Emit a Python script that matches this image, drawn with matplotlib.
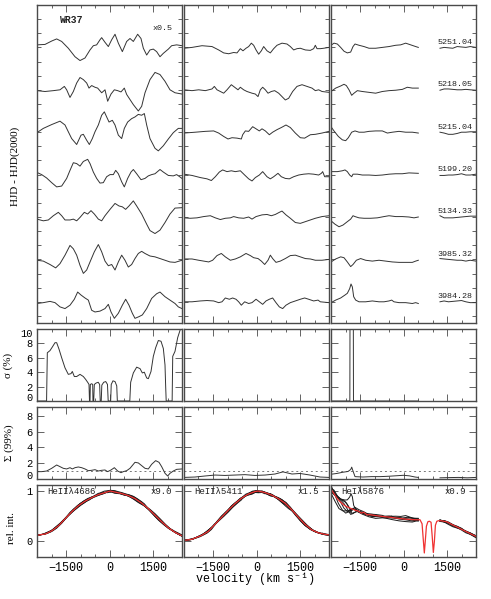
import numpy as np
import matplotlib
matplotlib.use("Agg")
import matplotlib.pyplot as plt
from matplotlib.ticker import MultipleLocator, NullLocator

plt.rcParams["font.family"] = ["Liberation Mono", "DejaVu Sans Mono"]
plt.rcParams["axes.unicode_minus"] = True

# observation labels, top trace first
dates = ["5251.04", "5218.05", "5215.04", "5199.20", "5134.33", "3985.32", "3984.28"]

# residual spectra, He II 4686 (top to bottom)
res1_v = [
    [-2500, -2224, -1994, -1822, -1649, -1420, -1190, -1017, -845, -672, -557, -443, -328, -270, -155, -40, 75, 190,
     305, 443, 592, 707, 822, 971, 1086, 1167, 1282, 1396, 1511, 1626, 1741, 1856, 2029, 2143, 2316, 2500],
    [-2500, -2224, -1937, -1707, -1557, -1477, -1362, -1247, -1132, -1017, -902, -787, -707, -615, -500, -408, -270,
     -155, -63, 52, 167, 282, 397, 511, 592, 707, 822, 994, 1109, 1224, 1396, 1569, 1741, 1914, 2086, 2259, 2500],
    [-2500, -2282, -1994, -1707, -1534, -1420, -1305, -1132, -983, -902, -787, -695, -592, -500, -385, -270, -178,
     -98, -16, 98, 190, 305, 420, 511, 626, 764, 879, 994, 1109, 1201, 1282, 1396, 1569, 1684, 1856, 2029, 2201,
     2373, 2500],
    [-2500, -2339, -2167, -1994, -1822, -1649, -1477, -1362, -1247, -1132, -1017, -902, -753, -672, -557, -443, -328,
     -213, -98, 18, 132, 213, 305, 420, 511, 626, 741, 822, 937, 1086, 1224, 1339, 1454, 1569, 1741, 1856, 2029,
     2201, 2316, 2500],
    [-2500, -2282, -2109, -1937, -1764, -1649, -1534, -1362, -1247, -1132, -1017, -868, -753, -638, -523, -385, -270,
     -155, 18, 190, 328, 443, 557, 672, 822, 937, 1109, 1282, 1396, 1569, 1741, 1914, 2086, 2259, 2500],
    [-2500, -2282, -2052, -1856, -1707, -1534, -1362, -1247, -1132, -1017, -902, -787, -672, -523, -385, -270, -155,
     -40, 75, 190, 305, 420, 534, 649, 764, 879, 994, 1109, 1224, 1396, 1569, 1741, 1914, 2086, 2259, 2500],
    [-2500, -2282, -2052, -1879, -1707, -1534, -1362, -1213, -1098, -983, -845, -730, -615, -500, -328, -155, -40,
     52, 167, 305, 443, 557, 672, 787, 879, 1017, 1132, 1282, 1454, 1626, 1741, 1914, 2086, 2259, 2373, 2500],
]
res1_y = [
    [0.01, 0.02, 0.10, 0.15, 0.09, -0.07, -0.27, -0.36, -0.30, -0.11, -0.01, 0.01, 0.13, 0.18, 0.07, -0.03, 0.13,
     0.26, 0.05, -0.15, 0.09, 0.16, 0.09, 0.26, 0.16, -0.07, -0.23, -0.11, -0.09, -0.15, -0.27, -0.19, -0.09,
     -0.01, 0.01, -0.01],
    [0, -0.02, 0, 0.02, 0.10, 0.02, -0.16, -0.02, 0.18, 0.31, 0.26, 0.18, 0.06, 0.12, 0.08, 0.06, -0.05, 0.02,
     -0.25, -0.08, 0.02, 0, -0.03, 0.06, -0.09, -0.21, -0.33, -0.48, -0.37, -0.05, 0.26, 0.43, 0.38, 0.22, 0.02,
     -0.05, -0.08],
    [-0.02, 0.08, 0.17, 0.25, 0.16, 0, -0.16, -0.30, -0.08, -0.06, -0.20, -0.30, -0.16, 0, 0.16, 0.39, 0.47, 0.35,
     0.23, 0.27, 0.16, -0.08, -0.16, 0.08, 0.23, 0.31, 0.35, 0.41, 0.39, 0.43, 0.16, -0.16, -0.39, -0.45, -0.33,
     -0.17, -0.02, 0.08, 0.08],
    [0.05, 0, -0.08, -0.19, -0.29, -0.27, -0.09, 0.10, 0.28, 0.26, 0.20, 0.31, 0.36, 0.26, 0.06, -0.09, -0.20,
     -0.19, -0.05, 0, 0, 0.10, 0.02, -0.17, -0.29, -0.09, 0.06, 0.12, 0.02, -0.12, -0.09, -0.03, 0, 0.02, 0.12,
     0.06, -0.02, -0.03, 0, -0.09],
    [0, -0.04, -0.02, 0.08, 0.16, 0.08, -0.02, -0.02, 0, -0.04, 0.04, 0.16, 0.12, 0.20, 0.12, 0, -0.04, 0.08, 0.23,
     0.37, 0.31, 0.29, 0.23, 0.31, 0.43, 0.31, 0.12, -0.12, -0.27, -0.34, -0.26, -0.08, 0.12, 0.26, 0.27],
    [0, -0.02, -0.10, -0.18, -0.08, 0.12, 0.35, 0.27, 0.12, -0.12, -0.31, -0.23, -0.04, 0.20, 0.37, 0.20, -0.02,
     -0.13, -0.10, -0.23, -0.04, 0.12, 0, -0.16, -0.10, 0.04, 0.16, 0.21, 0.16, 0.10, 0.08, 0.04, 0, -0.04, -0.05,
     0],
    [0, 0.02, 0.05, 0.02, -0.08, -0.12, -0.04, 0.10, 0.27, 0.20, 0.13, 0.08, -0.16, -0.20, -0.18, -0.12, -0.02,
     -0.20, -0.35, -0.23, -0.04, 0.10, -0.04, -0.23, -0.35, -0.31, -0.27, -0.12, 0.12, 0.23, 0.27, 0.16, 0.08, 0,
     -0.08, -0.12],
]
res1_zero = [0.05, -0.02, 0.01, 0.0, -0.05, -0.02, -0.04]

# residual spectra, He II 5411
res2_v = [
    [-2500, -2224, -1879, -1534, -1305, -1132, -960, -787, -672, -557, -466, -362, -270, -178, -98, -16, 75, 167,
     247, 362, 477, 592, 707, 879, 1052, 1167, 1282, 1396, 1511, 1684, 1856, 1971, 2029, 2086, 2201, 2316, 2500],
    [-2500, -2224, -1994, -1764, -1534, -1454, -1362, -1247, -1132, -1017, -868, -753, -638, -557, -443, -328, -155,
     -40, 52, 132, 213, 305, 397, 511, 626, 764, 879, 994, 1109, 1247, 1396, 1569, 1741, 1914, 2029, 2143, 2259,
     2500],
    [-2500, -2109, -1764, -1477, -1305, -1132, -983, -845, -672, -523, -477, -385, -270, -132, -16, 98, 190, 305,
     443, 557, 707, 856, 1017, 1167, 1339, 1511, 1661, 1856, 2029, 2259, 2500],
    [-2500, -2224, -1937, -1707, -1557, -1420, -1282, -1167, -1017, -868, -730, -557, -408, -270, -155, -40, 98,
     213, 362, 477, 592, 741, 856, 994, 1132, 1282, 1454, 1626, 1799, 1971, 2143, 2236, 2282, 2351, 2500],
    [-2500, -2282, -2052, -1822, -1592, -1420, -1247, -1075, -902, -787, -615, -443, -270, -155, -16, 190, 362,
     511, 649, 787, 879, 1017, 1167, 1339, 1511, 1684, 1856, 2029, 2259, 2500],
    [-2500, -2224, -1994, -1822, -1649, -1512, -1362, -1213, -1075, -902, -730, -557, -362, -213, -98, 52, 167,
     282, 397, 477, 557, 672, 822, 994, 1167, 1339, 1511, 1684, 1856, 2029, 2259, 2500],
    [-2500, -2224, -1937, -1707, -1477, -1305, -1190, -1075, -937, -822, -707, -615, -523, -408, -270, -155, -16,
     98, 213, 328, 443, 557, 672, 787, 902, 1017, 1167, 1339, 1511, 1661, 1799, 1971, 2121, 2201, 2500],
]
res2_y = [
    [-0.02, 0, 0.04, 0.02, -0.06, -0.13, -0.15, -0.12, -0.13, -0.03, -0.08, -0.02, 0.02, 0.10, 0.05, -0.06, -0.16,
     -0.08, 0.02, -0.08, -0.13, -0.03, 0.05, 0.10, 0.08, 0.02, -0.06, -0.03, -0.02, -0.06, -0.07, -0.03, 0.05,
     -0.03, -0.03, -0.02, 0],
    [0, -0.02, 0, -0.02, 0.02, 0.08, 0, -0.04, -0.08, 0, 0.12, 0.06, 0, 0.06, 0, -0.04, -0.08, -0.10, -0.16, 0,
     0.06, 0, -0.08, -0.04, -0.02, -0.08, -0.16, -0.24, -0.20, -0.04, 0.08, 0.12, 0.08, 0.04, -0.02, 0, -0.04,
     -0.06],
    [-0.02, 0, 0.02, 0.03, -0.02, -0.10, -0.16, -0.13, -0.14, -0.16, -0.06, 0.03, 0.02, 0.13, 0.08, 0.03, 0.08,
     0.03, -0.06, 0, 0.06, 0.11, 0.17, 0.11, -0.02, -0.13, -0.14, -0.06, -0.05, -0.02, 0.02],
    [0.01, -0.02, -0.07, -0.10, -0.14, -0.05, 0.06, 0.11, 0.07, 0.09, 0.07, 0.09, -0.01, -0.10, -0.15, -0.07,
     -0.01, 0.07, -0.05, -0.10, -0.05, 0.03, -0.05, -0.09, -0.10, -0.05, -0.01, 0.01, 0.02, 0.01, -0.01, 0.03,
     0.07, -0.05, -0.05],
    [-0.02, -0.03, -0.02, 0.01, 0.03, -0.02, -0.06, -0.03, -0.02, 0.01, -0.02, -0.03, 0, -0.05, 0.01, 0.05, 0.06,
     0.03, 0.06, 0.11, 0.14, 0.05, -0.03, -0.13, -0.15, -0.11, -0.07, -0.03, 0.01, 0.03],
    [0.01, 0.01, -0.02, -0.04, -0.06, -0.02, 0.09, 0.14, 0.06, -0.02, 0.01, 0.06, 0.14, 0.09, 0.04, 0.02, -0.04,
     -0.12, -0.02, 0.10, 0.02, -0.07, -0.04, 0.02, 0.09, 0.10, 0.06, 0.02, 0.01, -0.02, -0.02, 0],
    [0, 0, 0.02, 0.03, 0.02, -0.02, 0, 0.09, 0.06, 0.09, 0.06, 0, -0.08, 0, -0.04, -0.02, 0.06, 0, -0.06, 0.02,
     0.06, 0.09, -0.02, -0.12, -0.16, -0.08, -0.02, 0.02, 0.06, 0.09, 0.06, 0.02, 0.04, 0, -0.02],
]

# residual spectra, He I 5876: blue part, then red part past the Na D gap
res3_v = [
    [-2500, -2397, -2282, -2167, -2052, -1937, -1822, -1741, -1672, -1534, -1362, -1190, -960, -730, -500, -270,
     -98, 75, 247, 420, 511],
    [-2500, -2339, -2167, -2052, -1971, -1879, -1787, -1707, -1592, -1420, -1190, -960, -730, -500, -270, -40, 132,
     305, 511],
    [-2500, -2397, -2247, -2109, -1994, -1902, -1787, -1672, -1534, -1362, -1190, -960, -730, -557, -385, -155, 75,
     305, 511],
    [-2500, -2282, -2109, -2017, -1937, -1856, -1787, -1741, -1592, -1420, -1190, -960, -730, -500, -270, -40, 190,
     511],
    [-2500, -2362, -2224, -2086, -1937, -1822, -1741, -1672, -1534, -1362, -1132, -902, -672, -500, -270, -40, 190,
     362, 511],
    [-2500, -2339, -2167, -2052, -1937, -1822, -1741, -1626, -1477, -1305, -1075, -845, -615, -385, -155, 75, 305,
     420, 511],
    [-2500, -2339, -2167, -2017, -1937, -1856, -1810, -1764, -1718, -1649, -1534, -1305, -1075, -845, -672, -500,
     -408, -328, -155, 75, 305, 420, 511],
]
res3_y = [
    [0.05, 0.10, 0.08, 0, -0.09, -0.13, -0.11, 0.02, 0.08, 0.05, 0.02, -0.02, -0.02, 0, 0.02, 0.05, 0.06, 0.10,
     0.06, 0.02, 0],
    [-0.04, 0.04, 0.09, 0.13, 0.10, 0, -0.13, -0.08, -0.02, -0.04, -0.06, -0.08, -0.04, -0.02, -0.01, 0.01, 0.06,
     0.04, 0.04],
    [0.13, 0.03, -0.10, -0.18, -0.20, -0.13, 0, 0.03, 0, 0, 0.02, 0.03, 0.03, -0.02, 0, 0.02, 0, 0, -0.02],
    [0.07, 0.07, 0.09, 0.11, 0.07, -0.01, -0.05, 0.01, 0.01, -0.01, -0.01, -0.02, -0.01, 0.01, 0.02, 0.02, 0.04,
     0.03],
    [-0.09, -0.17, -0.23, -0.19, -0.11, -0.05, 0.03, 0.01, -0.02, -0.03, -0.03, -0.02, 0.01, 0.03, 0.01, 0.01, 0,
     -0.02, 0],
    [-0.06, 0.01, 0.06, 0.04, -0.06, -0.17, -0.12, -0.02, 0.02, -0.02, -0.04, -0.02, -0.04, -0.06, -0.07, -0.07,
     -0.07, -0.04, -0.02],
    [-0.02, 0.04, 0.09, 0.16, 0.20, 0.31, 0.42, 0.35, 0.12, 0.04, 0, 0, 0.02, 0, 0, 0.02, 0.04, 0, -0.02, -0.02,
     -0.04, -0.02, -0.04],
]
tail3_v = [1258, 1400, 1550, 1700, 1850, 2000, 2150, 2300, 2500]
tail3_y = [
    [-0.02, 0, -0.01, -0.02, 0.02, 0.01, 0, 0.02, 0],
    [-0.01, 0.02, 0.02, 0.01, 0, 0, 0.01, 0, -0.01],
    [0, -0.02, -0.05, -0.05, -0.03, 0, 0, 0.01, 0.01],
    [-0.02, -0.02, -0.01, -0.01, 0, 0.02, -0.01, -0.01, 0.01],
    [0.03, -0.02, -0.02, -0.02, -0.01, 0, 0.01, 0.02, 0.02],
    [0.02, 0.01, 0, -0.01, -0.02, -0.02, -0.04, -0.02, -0.04],
    [0, 0.02, 0, 0.01, 0.02, 0.03, 0, -0.02, -0.02],
]

# sigma (%) spectra
sig1_v = [-2500, -2170, -2144, -2052, -1971, -1879, -1822, -1741, -1649, -1534, -1420, -1328, -1282, -1213, -1132,
          -1017, -902, -822, -753, -707, -690, -672, -661, -615, -580, -570, -545, -523, -460, -390, -340, -320,
          -285, -265, -200, -130, -70, -45, 40, 60, 120, 190, 250, 270, 700, 730, 822, 937, 1052, 1132, 1201, 1282,
          1339, 1431, 1511, 1592, 1684, 1776, 1856, 1914, 1937, 1955, 2160, 2180, 2259, 2351, 2431, 2500]
sig1_y = [0, 0, 6.7, 7.0, 7.5, 8.1, 8.1, 7.2, 6.0, 4.6, 3.7, 3.8, 4.1, 3.4, 3.4,
          3.7, 3.4, 3.0, 2.6, 2.3, 0, 0, 2.3, 2.4, 2.3, 0, 0, 2.3, 2.5, 2.6, 2.3, 0,
          0, 2.2, 2.6, 2.7, 2.3, 0, 0, 2.3, 2.8, 2.7, 2.1, 0, 0, 2.6, 3.9, 4.7, 4.5, 3.9, 4.0, 3.2,
          3.1, 4.1, 6.2, 7.4, 8.4, 8.3, 7.3, 5.0, 2.0, 0, 0, 6.2, 6.9, 8.8, 9.8, 10.5]
sig2_v = [-2500, 2500]
sig2_y = [0, 0]
sig3_v = [-2500, -1850, -1845, -1730, -1725, 511]
sig3_y = [0, 0, 11, 11, 0, 0]

# Sigma (99%) spectra
big1_v = [-2500, -2339, -2167, -1994, -1822, -1707, -1592, -1477, -1362, -1282, -1190, -1075, -960, -845, -730,
          -615, -500, -385, -270, -155, -63, 52, 167, 282, 397, 477, 592, 707, 879, 994, 1109, 1224, 1339, 1454,
          1592, 1707, 1799, 1914, 2006, 2086, 2201, 2316, 2500]
big1_y = [0.93, 0.93, 1.01, 1.35, 1.77, 1.56, 1.35, 1.27, 1.43, 1.27, 1.43, 1.52, 1.43, 1.27, 1.05, 1.10, 1.18,
          1.01, 1.10, 1.14, 0.93, 1.14, 1.43, 1.01, 0.80, 0.93, 1.05, 1.35, 2.11, 2.03, 1.69, 1.35, 1.27, 1.86,
          2.32, 2.11, 1.56, 0.72, 0.38, 0.72, 1.01, 1.22, 1.27]
big2_v = [-2500, -2120, -1776, -1431, -1086, -741, -397, -52, 293, 638, 914, 1224, 1500, 1845, 2190, 2500]
big2_y = [0.2, 0.25, 0.38, 0.5, 0.45, 0.5, 0.55, 0.45, 0.5, 0.63, 0.9, 0.63, 0.7, 0.5, 0.25, 0.2]
big3_v = [-2500, -2300, -2100, -1914, -1820, -1786, -1740, -1672, -1400, -1100, -800, -500, -200, 0, 200, 400, 511]
big3_y = [0.6, 0.7, 0.85, 0.95, 1.2, 1.5, 1.0, 0.3, 0.25, 0.3, 0.3, 0.35, 0.42, 0.47, 0.4, 0.25, 0.2]
big3t_v = [1258, 1600, 1900, 2200, 2500]
big3t_y = [0.15, 0.18, 0.2, 0.15, 0.2]

# mean line profiles (red)
prof1_v = [-2500, -2200, -1990, -1760, -1530, -1300, -1070, -840, -610, -380, -150, 20, 190, 420, 650, 880, 1110,
           1340, 1570, 1800, 2030, 2260, 2500]
prof1_y = [0.12, 0.15, 0.21, 0.31, 0.45, 0.59, 0.71, 0.80, 0.87, 0.93, 0.97, 1.0, 0.98, 0.95, 0.91, 0.85, 0.76,
           0.65, 0.52, 0.39, 0.27, 0.18, 0.11]
prof2_v = [-2500, -2236, -1891, -1661, -1431, -1201, -971, -741, -512, -282, -52, 63, 293, 523, 753, 983, 1213,
           1442, 1672, 1902, 2132, 2362, 2500]
prof2_y = [0.02, 0.04, 0.12, 0.20, 0.34, 0.48, 0.62, 0.75, 0.86, 0.94, 0.99, 1.0, 0.97, 0.92, 0.85, 0.76, 0.63,
           0.48, 0.34, 0.23, 0.17, 0.14, 0.13]
prof3_v = [-2480, -2400, -2300, -2190, -2050, -1958, -1800, -1672, -1550, -1450, -1380, -1327, -1269, -1150,
           -1041, -800, -465, -200, 110, 400, 569, 640, 680, 718, 750, 790, 840, 890, 950, 990, 1029, 1065, 1100,
           1150, 1200, 1300, 1490, 1650, 1834, 2000, 2179, 2350, 2500]
prof3_y = [1.02, 0.95, 0.86, 0.79, 0.72, 0.69, 0.65, 0.62, 0.60, 0.56, 0.58, 0.56, 0.53, 0.53, 0.52, 0.50, 0.48,
           0.46, 0.44, 0.43, 0.43, 0.35, 0.05, -0.23, 0.0, 0.30, 0.39, 0.40, 0.38, 0.10, -0.22, 0.0, 0.32, 0.40,
           0.41, 0.41, 0.39, 0.34, 0.29, 0.24, 0.19, 0.14, 0.10]

lines = ["HeIIλ4686", "HeIIλ5411", "HeIλ5876"]
factors = ["x9.0", "x1.5", "x0.9"]
black_amp = [0.07, 0.2, 0.7]

LINE = "#333333"
FRAME = "#4a4a4a"
RED = "#f03232"

fig = plt.figure(figsize=(4.91, 5.99), dpi=100)
W, H = 491.0, 599.0
lefts = [37, 184, 331]
tops = [5, 329, 407, 485]
bottoms = [323, 401, 479, 557]


def make_ax(c, r):
    ax = fig.add_axes([lefts[c] / W, 1 - bottoms[r] / H, 145 / W, (bottoms[r] - tops[r]) / H])
    ax.set_xlim(-2500, 2500)
    ax.xaxis.set_major_locator(MultipleLocator(1500))
    ax.xaxis.set_minor_locator(MultipleLocator(500))
    ax.tick_params(which="both", direction="in", top=True, right=True, color=FRAME, width=0.6,
                   labelbottom=False, labelleft=False)
    ax.tick_params(axis="x", labelsize=8.5)
    ax.tick_params(axis="y", labelsize=7.5, pad=3)
    ax.tick_params(which="major", length=5)
    ax.tick_params(which="minor", length=2.5)
    ax.yaxis.set_minor_locator(NullLocator())
    for s in ax.spines.values():
        s.set_color(FRAME)
        s.set_linewidth(1.0)
    return ax


res_v = [res1_v, res2_v, res3_v]
res_y = [res1_y, res2_y, res3_y]
sig_v = [sig1_v, sig2_v, sig3_v]
sig_y = [sig1_y, sig2_y, sig3_y]
big_v = [big1_v, big2_v, big3_v]
big_y = [big1_y, big2_y, big3_y]
prof_v = [prof1_v, prof2_v, prof3_v]
prof_y = [prof1_y, prof2_y, prof3_y]

for c in range(3):
    # residual traces
    ax = make_ax(c, 0)
    ax.set_ylim(-0.5, 7.0)
    ax.yaxis.set_major_locator(MultipleLocator(1 / 3))
    ax.tick_params(which="major", axis="y", length=3)
    for i in range(7):
        off = 6 - i
        shift = res1_zero[i] if c == 0 else 0.0
        ax.plot(res_v[c][i], np.array(res_y[c][i]) + off + shift, color=LINE, lw=0.7)
        if c == 2:
            ax.plot(tail3_v, np.array(tail3_y[i]) + off, color=LINE, lw=0.7)
            ax.text(2380, off + 0.12, dates[i], fontsize=6, ha="right", va="center", color="#222222")
    if c == 0:
        ax.text(-1710, 6.65, "WR37", fontsize=7, fontweight="bold", ha="left", va="center", color="#222222")
        ax.text(2180, 6.44, "x0.5", fontsize=6, ha="right", va="center", color="#222222")

    # sigma (%)
    ax = make_ax(c, 1)
    ax.set_ylim(0, 10)
    ax.set_yticks(range(0, 11, 2))
    ax.plot(sig_v[c], sig_y[c], color=LINE, lw=0.7)
    if c == 0:
        ax.tick_params(labelleft=True)
        ticks = ax.yaxis.get_major_ticks()
        ticks[0].label1.set_va("baseline")
        ticks[-1].label1.set_va("top")

    # Sigma (99%)
    ax = make_ax(c, 2)
    ax.set_ylim(0, 9.1)
    ax.set_yticks(range(0, 9, 2))
    ax.axhline(1, color="#777777", lw=0.7, ls=(0, (2, 3)))
    ax.plot(big_v[c], big_y[c], color=LINE, lw=0.7)
    if c == 2:
        ax.plot(big3t_v, big3t_y, color=LINE, lw=0.7)
    if c == 0:
        ax.tick_params(labelleft=True)
        ax.yaxis.get_major_ticks()[0].label1.set_va("baseline")

    # line profiles: individual spectra (black) and mean (red)
    ax = make_ax(c, 3)
    ax.set_ylim(-0.31, 1.12)
    ax.set_yticks([0, 1])
    ax.tick_params(labelbottom=True)
    for i in range(7):
        vv = np.array(res_v[c][i], dtype=float)
        yy = np.interp(vv, prof_v[c], prof_y[c]) + black_amp[c] * np.array(res_y[c][i])
        ax.plot(vv, yy, color="#1a1a1a", lw=0.7)
        if c == 2:
            tv = np.array(tail3_v, dtype=float)
            ty = np.interp(tv, prof_v[c], prof_y[c]) + black_amp[c] * np.array(tail3_y[i])
            ax.plot(tv, ty, color="#1a1a1a", lw=0.7)
    ax.plot(prof_v[c], prof_y[c], color=RED, lw=0.9)
    ax.text(-2140, 0.99, lines[c], fontsize=6.5, ha="left", va="center", color="#222222")
    ax.text(2170, 0.99, factors[c], fontsize=6.5, ha="right", va="center", color="#222222")
    if c == 0:
        ax.tick_params(labelleft=True)

serif = ["Liberation Serif", "DejaVu Serif"]
fig.text(15 / W, 1 - 166 / H, "HJD - HJD(2000)", rotation=90, ha="center", va="center", fontsize=8, family=serif)
fig.text(8 / W, 1 - 365 / H, "σ (%)", rotation=90, ha="center", va="center", fontsize=8, family=serif)
fig.text(9 / W, 1 - 443 / H, "Σ (99%)", rotation=90, ha="center", va="center", fontsize=8, family=serif)
fig.text(12 / W, 1 - 528 / H, "rel. int.", rotation=90, ha="center", va="center", fontsize=8, family=serif)
fig.text(256 / W, 1 - 579 / H, "velocity (km s⁻¹)", ha="center", va="center", fontsize=8.5)

fig.savefig("out.png", dpi=100)
